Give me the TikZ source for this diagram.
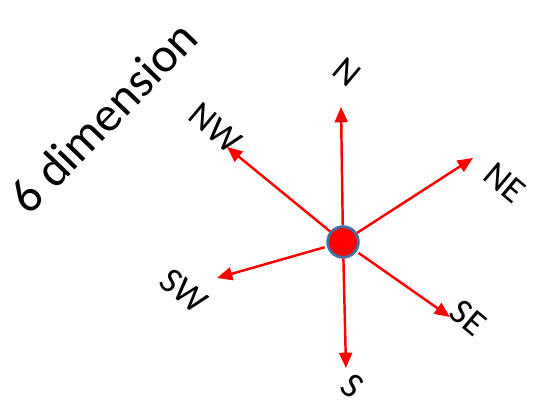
\documentclass[tikz,border=0pt]{standalone}
\usepackage{fontspec}
\setmainfont{Carlito}
\usetikzlibrary{arrows.meta}
\definecolor{cpred}{HTML}{FF0000}
\definecolor{cpblue}{HTML}{41719C}
\tikzset{
  cp dot/.style={circle, draw=cpblue, line width=2.4pt, fill=cpred,
    minimum size=9.2mm, inner sep=0pt},
  cp arrow/.style={-{Triangle[length=4.6mm,width=3.9mm]}, line width=2.1pt,
    draw=cpred, fill=cpred},
  cp label/.style={font=\fontsize{31}{31}\selectfont, rotate=-40, inner sep=0pt},
  cp title/.style={font=\fontsize{42}{42}\selectfont, rotate=46, inner sep=0pt}
}
\begin{document}
\begin{tikzpicture}[x=0.03cm, y=0.03cm]
  \useasboundingbox (0,0) rectangle (533,405);
  \node[cp title] (title) at (103,288) {6 dimension};
  % arrow tips
  \coordinate (tipN) at (341,298);
  \coordinate (tipNW) at (227,258);
  \coordinate (tipNE) at (473,247);
  \coordinate (tipSW) at (217,127);
  \coordinate (tipSE) at (450,88);
  \coordinate (tipS) at (346,37);
  \node[cp dot] (centre) at (343,163) {};
  \draw[cp arrow] (centre) -- (tipN);
  \draw[cp arrow] (centre) -- (tipNW);
  \draw[cp arrow] (centre) -- (tipNE);
  \draw[cp arrow, shorten <=2pt] (centre) -- (tipSW);
  \draw[cp arrow, shorten <=2pt] (centre) -- (tipSE);
  \draw[cp arrow] (centre) -- (tipS);
  % labels
  \node[cp label] (labN) at (347,333) {N};
  \node[cp label] (labNW) at (215,277) {NW};
  \node[cp label] (labNE) at (505,222) {NE};
  \node[cp label] (labSW) at (184,114) {SW};
  \node[cp label] (labSE) at (468,87) {SE};
  \node[cp label] (labS) at (352,19) {S};
\end{tikzpicture}
\end{document}
